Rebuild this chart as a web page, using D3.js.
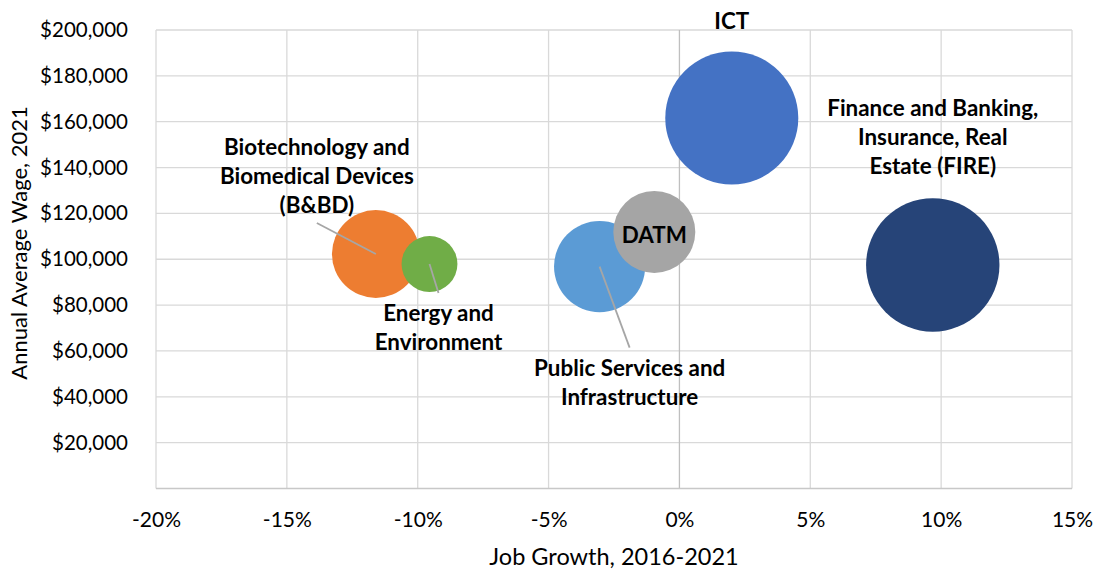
<!DOCTYPE html>
<html>
<head>
<meta charset="utf-8">
<script src="https://cdn.jsdelivr.net/npm/d3@7"></script>
<style>
	body { margin: 0; background: #ffffff; }
	svg { display: block; font-family: Lato, "Open Sans", sans-serif; }
</style>
</head>
<body>
<div id="app"></div>
<script>
// Chart data
const sectors = ["B&BD", "Energy", "PSI", "DATM", "ICT", "FIRE"];
const sectorLabels = [
	["Biotechnology and", "Biomedical Devices", "(B&BD)"],
	["Energy and", "Environment"],
	["Public Services and", "Infrastructure"],
	["DATM"],
	["ICT"],
	["Finance and Banking,", "Insurance, Real", "Estate (FIRE)"]
];
const jobGrowth = [-11.6, -9.55, -3.05, -0.96, 2.0, 9.68];          // percent, 2016-2021
const avgWage = [102300, 97900, 96800, 111900, 161600, 97500];       // dollars, 2021
const bubbleSize = [39, 15.8, 42, 34, 89.5, 90];                      // relative size
const sectorColors = ["#ED7D31", "#70AD47", "#5B9BD5", "#A5A5A5", "#4472C4", "#264478"];

const xTicks = [-20, -15, -10, -5, 0, 5, 10, 15];
const yTicks = [20000, 40000, 60000, 80000, 100000, 120000, 140000, 160000, 180000, 200000];

// Label placement relative to each bubble (pixels)
const labelLayout = {
	"B&BD":  { dx: -59, dy: -107, leader: [-59, -31] },
	"Energy": { dx: 9, dy: 49, leader: [9, 29] },
	"PSI":   { dx: 30, dy: 102, leader: [30, 81] },
	"DATM":  { dx: 0, dy: 3, leader: null },
	"ICT":   { dx: 0, dy: -97, leader: null },
	"FIRE":  { dx: 0, dy: -157, leader: null }
};

const dimensions = {
	width: 1094,
	height: 569,
	margin: { top: 30, right: 22, bottom: 80.5, left: 156 }
};

let width = dimensions.width - dimensions.margin.left - dimensions.margin.right;
let height = dimensions.height - dimensions.margin.top - dimensions.margin.bottom;

const svg = d3.select("#app")
	.append("svg")
	.attr("width", dimensions.width)
	.attr("height", dimensions.height);

const g = svg.append("g")
	.attr("transform", "translate(" + dimensions.margin.left + "," + dimensions.margin.top + ")");

// Scales
let x = d3.scaleLinear()
	.domain([-20, 15])
	.range([0, width]);

let y = d3.scaleLinear()
	.domain([0, 200000])
	.range([height, 0]);

let r = d3.scaleSqrt()
	.domain([0, 90])
	.range([0, 66.7]);

let data = sectors.map((s, i) => ({
	key: s,
	lines: sectorLabels[i],
	growth: jobGrowth[i],
	wage: avgWage[i],
	size: bubbleSize[i],
	color: sectorColors[i]
}));

// Gridlines
g.append("g")
	.selectAll("line")
	.data(yTicks)
	.enter()
	.append("line")
		.attr("x1", 0)
		.attr("x2", width)
		.attr("y1", d => y(d))
		.attr("y2", d => y(d))
		.attr("stroke", "#d9d9d9")
		.attr("stroke-width", 1.3);

g.append("g")
	.selectAll("line")
	.data(xTicks.filter(d => d !== 0))
	.enter()
	.append("line")
		.attr("x1", d => x(d))
		.attr("x2", d => x(d))
		.attr("y1", 0)
		.attr("y2", height)
		.attr("stroke", "#d9d9d9")
		.attr("stroke-width", 1.3);

// Axis lines (vertical axis crosses at 0%)
g.append("line")
	.attr("x1", x(0))
	.attr("x2", x(0))
	.attr("y1", 0)
	.attr("y2", height)
	.attr("stroke", "#bfbfbf")
	.attr("stroke-width", 1.3);

g.append("line")
	.attr("x1", 0)
	.attr("x2", width)
	.attr("y1", y(0))
	.attr("y2", y(0))
	.attr("stroke", "#c8c8c8")
	.attr("stroke-width", 1.3);

// Tick labels
let xAxis = g.append("g")
	.attr("transform", "translate(0," + height + ")")
	.call(d3.axisBottom(x).tickValues(xTicks).tickSize(0).tickPadding(24).tickFormat(d => d + "%"));
xAxis.select(".domain").remove();
xAxis.selectAll("text")
	.attr("font-family", "Lato, sans-serif")
	.attr("font-size", 21)
	.attr("fill", "#000000");

let yAxis = g.append("g")
	.call(d3.axisLeft(y).tickValues(yTicks).tickSize(0).tickPadding(28).tickFormat(d3.format("$,")));
yAxis.select(".domain").remove();
yAxis.selectAll("text")
	.attr("font-family", "Lato, sans-serif")
	.attr("font-size", 20.5)
	.attr("fill", "#000000");

// Axis titles
svg.append("text")
	.attr("text-anchor", "middle")
	.attr("x", dimensions.margin.left + width / 2)
	.attr("y", 565)
	.attr("font-size", 23.5)
	.attr("fill", "#000000")
	.text("Job Growth, 2016-2021");

svg.append("text")
	.attr("text-anchor", "middle")
	.attr("transform", "translate(27," + 243 + ")rotate(-90)")
	.attr("font-size", 22)
	.attr("fill", "#000000")
	.text("Annual Average Wage, 2021");

// Bubbles
g.selectAll(".bubble")
	.data(data)
	.enter()
	.append("circle")
		.attr("class", "bubble")
		.attr("cx", d => x(d.growth))
		.attr("cy", d => y(d.wage))
		.attr("r", d => r(d.size))
		.attr("fill", d => d.color);

// Leader lines
g.selectAll(".leader")
	.data(data.filter(d => labelLayout[d.key].leader))
	.enter()
	.append("line")
		.attr("class", "leader")
		.attr("x1", d => x(d.growth))
		.attr("y1", d => y(d.wage))
		.attr("x2", d => x(d.growth) + labelLayout[d.key].leader[0])
		.attr("y2", d => y(d.wage) + labelLayout[d.key].leader[1])
		.attr("stroke", "#a6a6a6")
		.attr("stroke-width", 1.8);

// Data labels
let labels = g.selectAll(".label")
	.data(data)
	.enter()
	.append("text")
		.attr("class", "label")
		.attr("text-anchor", "middle")
		.attr("font-weight", "bold")
		.attr("font-size", 22.4)
		.attr("fill", "#000000")
		.attr("transform", d => "translate(" + (x(d.growth) + labelLayout[d.key].dx) + "," + (y(d.wage) + labelLayout[d.key].dy) + ")");

labels.selectAll("tspan")
	.data(d => d.lines)
	.enter()
	.append("tspan")
		.attr("x", 0)
		.attr("y", (d, i) => i * 29)
		.attr("dy", "0.35em")
		.text(d => d);
</script>
</body>
</html>
